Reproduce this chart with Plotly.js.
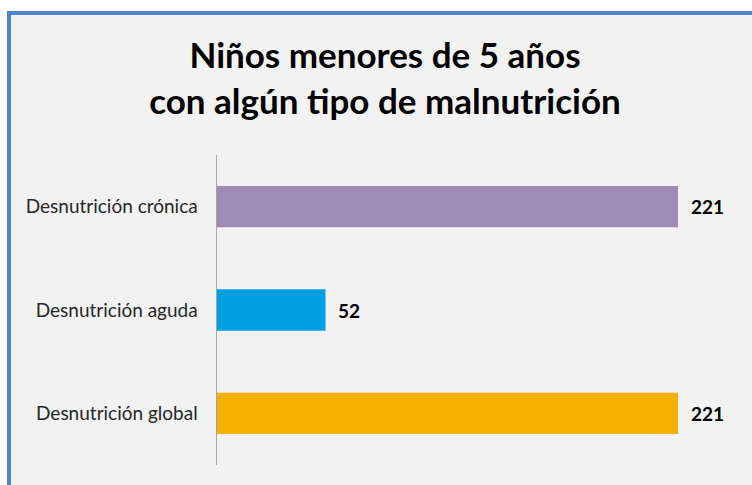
<!DOCTYPE html>
<html>
<head>
<meta charset="utf-8">
<script src="https://cdn.plot.ly/plotly-3.0.1.min.js"></script>
<style>
  html, body { margin: 0; padding: 0; background: #ffffff; }
  #wrap { position: relative; width: 752px; height: 485px; overflow: hidden; }
  #frame { position: absolute; left: 7px; top: 11px; width: 760px; height: 490px;
           background: #f2f2f2; border-left: 4px solid #4f86cb; border-top: 4px solid #4f86cb; }
  #chart { position: absolute; left: 0; top: 0; width: 752px; height: 485px; }
</style>
</head>
<body>
<div id="wrap">
  <div id="frame"></div>
  <div id="chart"></div>
</div>
<script>
const categories = ['Desnutrición global', 'Desnutrición aguda', 'Desnutrición crónica'];
const values = [221, 52, 221];
const barColors = ['#f5b000', '#00a0e2', '#9f8cb6'];
const titleText = 'Niños menores de 5 años<br>con algún tipo de malnutrición';

const trace = {
  type: 'bar',
  orientation: 'h',
  x: values,
  y: categories,
  marker: { color: barColors, line: { width: 0 } },
  width: 0.4,
  hoverinfo: 'none'
};

const annotations = values.map((v, i) => ({
  x: v, y: categories[i], xref: 'x', yref: 'y',
  text: '<b>' + v + '</b>', showarrow: false,
  xanchor: 'left', xshift: 11,
  font: { family: 'Lato, "Open Sans", sans-serif', size: 19, color: '#000000' }
}));

const layout = {
  width: 752, height: 485,
  paper_bgcolor: 'rgba(0,0,0,0)',
  plot_bgcolor: 'rgba(0,0,0,0)',
  margin: { l: 217, r: 35, t: 155, b: 20 },
  showlegend: false,
  title: {
    text: '<b>' + titleText + '</b>',
    xref: 'container', yref: 'container',
    x: 385 / 752, xanchor: 'center',
    y: 1 - 68 / 485, yanchor: 'top',
    font: { family: 'Lato, "Open Sans", sans-serif', size: 35, color: '#000000' }
  },
  xaxis: {
    range: [0, 221 * 500 / 461],
    showgrid: false, zeroline: false, showticklabels: false, showline: false, ticks: ''
  },
  yaxis: {
    type: 'category',
    range: [-0.5, 2.5],
    showline: true, linecolor: '#a6a6a6', linewidth: 1.5,
    showgrid: false, zeroline: false, ticks: '',
    ticklabelstandoff: 14,
    tickfont: { family: 'Lato, "Open Sans", sans-serif', size: 19, color: '#262626' }
  },
  annotations: annotations
};

Plotly.newPlot('chart', [trace], layout, { displayModeBar: false, staticPlot: true });
</script>
</body>
</html>
